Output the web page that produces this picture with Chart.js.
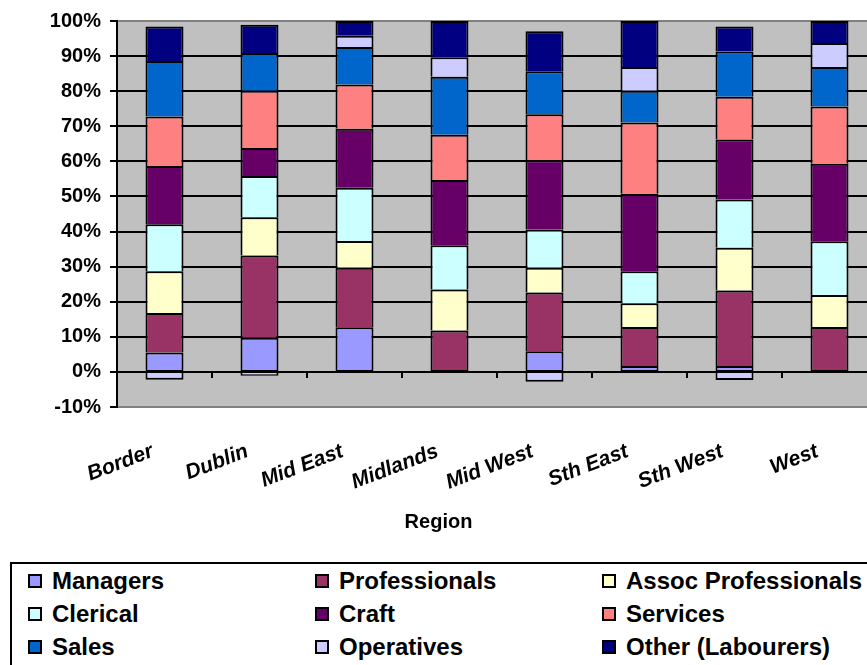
<!DOCTYPE html>
<html>
<head>
<meta charset="utf-8">
<script src="https://cdn.jsdelivr.net/npm/chart.js@4.4.1/dist/chart.umd.min.js"></script>
<style>
  html, body { margin: 0; padding: 0; background: #fff; overflow: hidden; width: 867px; height: 665px; }
  #wrap { position: absolute; left: 0; top: 0; width: 880px; height: 540px; }
  #legendBox { position: absolute; left: 10px; top: 562px; width: 900px; height: 130px; border: 2px solid #000; box-sizing: border-box; }
  .lg-text { position: absolute; font: bold 24px 'Liberation Sans', Arial, sans-serif; line-height: 24px; color: #000; white-space: nowrap; }
  .lg-sw { position: absolute; width: 10px; height: 10px; border: 2px solid #000; }
</style>
</head>
<body>
<div id="wrap"><canvas id="chart" width="880" height="540"></canvas></div>
<div id="legendBox"></div>
<div id="legendItems"></div>
<script>
// Occupation mix by region, share of employment (%)
const regions = ['Border', 'Dublin', 'Mid East', 'Midlands', 'Mid West', 'Sth East', 'Sth West', 'West'];

const managers      = [5.5, 9.7, 12.7, 0, 5.9, 1.7, 1.7, 0];
const professionals = [11.3, 23.5, 17.0, 11.8, 16.7, 11.1, 21.5, 12.8];
const assocProf     = [11.9, 10.9, 7.6, 11.7, 7.1, 6.8, 12.2, 9.1];
const clerical      = [13.4, 11.7, 15.2, 12.6, 10.9, 9.1, 13.7, 15.3];
const craft         = [16.6, 8.0, 16.8, 18.6, 19.7, 22.1, 17.1, 22.1];
const services      = [14.1, 16.3, 12.6, 12.9, 13.1, 20.3, 12.2, 16.3];
const sales         = [15.8, 10.8, 10.7, 16.5, 12.3, 9.0, 12.9, 11.3];
const operatives    = [-2.2, -1.1, 3.2, 5.6, -2.8, 6.8, -2.3, 6.8];
const labourers     = [9.8, 8.0, 4.2, 10.3, 11.4, 13.1, 7.1, 6.3];

const yTicks = [-10, 0, 10, 20, 30, 40, 50, 60, 70, 80, 90, 100];

const seriesNames = ['Managers', 'Professionals', 'Assoc Professionals', 'Clerical', 'Craft',
                     'Services', 'Sales', 'Operatives', 'Other (Labourers)'];
const seriesData = [managers, professionals, assocProf, clerical, craft, services, sales, operatives, labourers];
const seriesColors = ['#9999FF', '#993366', '#FFFFCC', '#CCFFFF', '#660066',
                      '#FF8080', '#0066CC', '#CCCCFF', '#000080'];

const FONT = "'Liberation Sans', Arial, sans-serif";

// lowest positive segment of a stack gets a bottom edge
function isStackBase(ctx) {
  const i = ctx.dataIndex;
  for (let d = 0; d < ctx.datasetIndex; d++) {
    if (seriesData[d][i] > 0) return false;
  }
  return true;
}

const datasets = seriesNames.map((name, k) => ({
  label: name,
  data: seriesData[k],
  backgroundColor: seriesColors[k],
  borderColor: '#000',
  borderSkipped: false,
  borderWidth: (ctx) => {
    const v = ctx.raw;
    if (v < 0) return { top: 0, bottom: 2, left: 2, right: 2 };
    return { top: 2, bottom: isStackBase(ctx) ? 1 : 0, left: 2, right: 2 };
  },
  barPercentage: 0.4,
  categoryPercentage: 1.0
}));

const plotBackground = {
  id: 'plotBackground',
  beforeDraw(chart) {
    const { ctx, chartArea: a } = chart;
    ctx.save();
    ctx.fillStyle = '#C0C0C0';
    ctx.fillRect(a.left, a.top, a.right - a.left, a.bottom - a.top);
    ctx.restore();
  }
};

// category tick marks along the zero line
const zeroTicks = {
  id: 'zeroTicks',
  beforeDatasetsDraw(chart) {
    const { ctx, scales } = chart;
    const x = scales.x, y = scales.y;
    const y0 = y.getPixelForValue(0);
    const n = regions.length;
    const step = (x.right - x.left) / n;
    ctx.save();
    ctx.strokeStyle = '#000';
    ctx.lineWidth = 2;
    for (let i = 1; i <= n; i++) {
      const px = Math.round(x.left + i * step);
      ctx.beginPath();
      ctx.moveTo(px, y0);
      ctx.lineTo(px, y0 + 6);
      ctx.stroke();
    }
    ctx.restore();
  }
};

Chart.defaults.color = '#000';
Chart.defaults.font.family = FONT;

const chart = new Chart(document.getElementById('chart'), {
  type: 'bar',
  data: { labels: regions, datasets },
  options: {
    responsive: false,
    animation: false,
    devicePixelRatio: 1,
    layout: { padding: { top: 17, right: 3, left: 0, bottom: 0 } },
    plugins: {
      legend: { display: false },
      tooltip: { enabled: false },
      title: {
        display: true,
        position: 'bottom',
        text: 'Region',
        color: '#000',
        font: { family: FONT, size: 20, weight: 'bold' },
        padding: { top: 0, bottom: 6 }
      }
    },
    scales: {
      x: {
        stacked: true,
        offset: true,
        grid: { display: false, drawTicks: false },
        border: { display: false },
        ticks: {
          autoSkip: false,
          minRotation: 21,
          maxRotation: 21,
          padding: 32,
          labelOffset: -12,
          color: '#000',
          font: { family: FONT, size: 21, weight: 'bold', style: 'italic' }
        },
        afterFit(scale) { scale.height = 103; }
      },
      y: {
        stacked: true,
        min: -10,
        max: 100,
        afterBuildTicks(scale) { scale.ticks = yTicks.map(v => ({ value: v })); },
        grid: {
          color: (ctx) => (ctx.tick && (ctx.tick.value === -10 || ctx.tick.value === 100)) ? '#808080' : '#000',
          lineWidth: 2,
          tickColor: '#000',
          tickWidth: 2,
          tickLength: 7
        },
        border: { display: true, color: '#000', width: 2 },
        ticks: {
          padding: 9,
          color: '#000',
          font: { family: FONT, size: 20, weight: 'bold' },
          callback: (v) => v + '%'
        },
        afterFit(scale) { scale.width = 117; }
      }
    }
  },
  plugins: [plotBackground, zeroTicks]
});

// legend in three columns, built from the chart's datasets
const colLeft = [28, 315, 602];
const rowBaseline = [589, 622, 655];
const holder = document.getElementById('legendItems');
chart.data.datasets.forEach((ds, i) => {
  const c = i % 3, r = Math.floor(i / 3);
  const sw = document.createElement('div');
  sw.className = 'lg-sw';
  sw.style.left = colLeft[c] + 'px';
  sw.style.top = (rowBaseline[r] - 15) + 'px';
  sw.style.background = ds.backgroundColor;
  holder.appendChild(sw);
  const t = document.createElement('div');
  t.className = 'lg-text';
  t.style.left = (colLeft[c] + 24) + 'px';
  t.style.top = (rowBaseline[r] - 20) + 'px';
  t.textContent = ds.label;
  holder.appendChild(t);
});
</script>
</body>
</html>
